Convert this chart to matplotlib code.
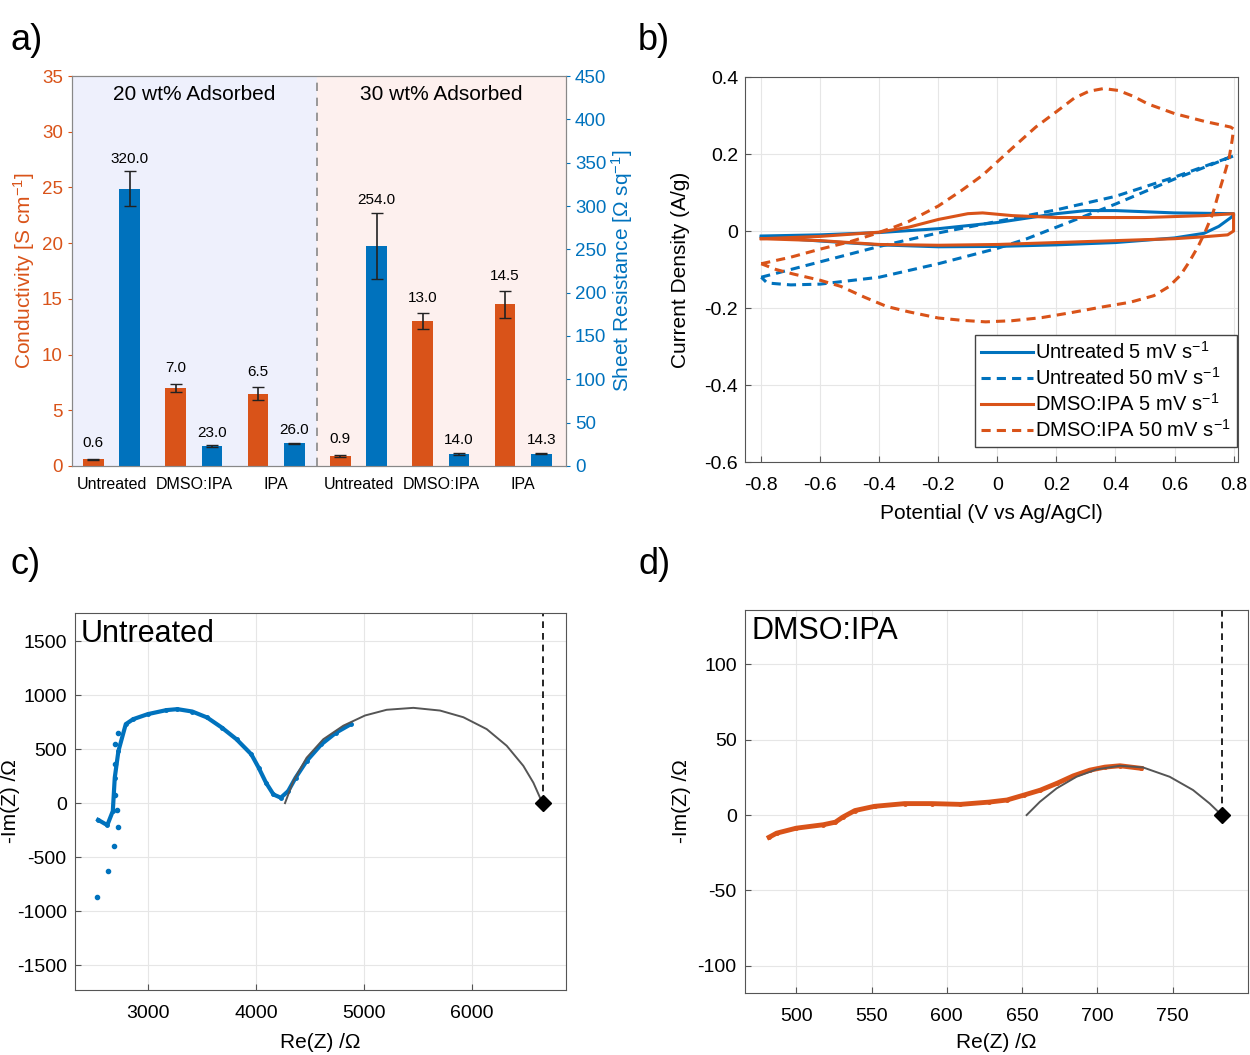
import numpy as np
import matplotlib
matplotlib.use("Agg")
import matplotlib.pyplot as plt

plt.rcParams['font.family'] = ['Liberation Sans', 'DejaVu Sans']
plt.rcParams['mathtext.fontset'] = 'custom'
plt.rcParams['mathtext.rm'] = 'Liberation Sans'
plt.rcParams['mathtext.it'] = 'Liberation Sans:italic'
plt.rcParams['axes.unicode_minus'] = False

ORANGE = '#D95319'
BLUE = '#0072BD'
SPINE = '#555555'

# ---- panel a data ----
categories = ['Untreated', 'DMSO:IPA', 'IPA', 'Untreated', 'DMSO:IPA', 'IPA']
conductivity = [0.6, 7.0, 6.5, 0.9, 13.0, 14.5]
conductivity_err = [0.06, 0.4, 0.6, 0.12, 0.7, 1.2]
sheet_res = [320.0, 23.0, 26.0, 254.0, 14.0, 14.3]
sheet_res_err = [20.0, 1.0, 1.0, 38.0, 1.0, 1.0]
group_titles = ['20 wt% Adsorbed', '30 wt% Adsorbed']

# ---- panel b data (CV loops) ----
untr5_v = [-0.8, -0.6, -0.4, -0.2, 0.0, 0.2, 0.3, 0.4, 0.5, 0.6, 0.8,
           0.8, 0.75, 0.7, 0.6, 0.4, 0.2, 0.0, -0.2, -0.4, -0.6, -0.8]
untr5_i = [-0.013, -0.01, -0.004, 0.006, 0.022, 0.045, 0.053, 0.053, 0.05, 0.047, 0.045,
           0.04, 0.012, -0.006, -0.018, -0.03, -0.036, -0.04, -0.041, -0.036, -0.026, -0.015]
untr50_v = [-0.8, -0.6, -0.4, -0.2, 0.0, 0.2, 0.4, 0.6, 0.8,
            0.6, 0.4, 0.3, 0.2, 0.1, 0.0, -0.2, -0.4, -0.6, -0.7, -0.78, -0.8]
untr50_i = [-0.12, -0.08, -0.04, -0.005, 0.025, 0.055, 0.09, 0.14, 0.195,
            0.135, 0.07, 0.04, 0.01, -0.02, -0.045, -0.085, -0.12, -0.138, -0.14, -0.135, -0.12]
dmso5_v = [-0.8, -0.6, -0.4, -0.3, -0.2, -0.1, -0.05, 0.05, 0.2, 0.5, 0.7, 0.8,
           0.8, 0.78, 0.7, 0.6, 0.4, 0.2, 0.0, -0.2, -0.4, -0.6, -0.8]
dmso5_i = [-0.02, -0.014, -0.003, 0.01, 0.03, 0.045, 0.047, 0.04, 0.035, 0.035, 0.04, 0.045,
           0.0, -0.01, -0.015, -0.02, -0.025, -0.03, -0.035, -0.037, -0.035, -0.025, -0.02]
dmso50_v = [-0.8, -0.7, -0.6, -0.5, -0.425, -0.35, -0.3, -0.2, -0.12, -0.05, 0.0, 0.05, 0.13,
            0.2, 0.26, 0.31, 0.36, 0.41, 0.46, 0.51, 0.6, 0.7, 0.79, 0.8,
            0.795, 0.785, 0.77, 0.75, 0.73, 0.705, 0.68, 0.65, 0.62, 0.58, 0.53, 0.45, 0.35,
            0.25, 0.15, 0.05, -0.04, -0.12, -0.2, -0.3, -0.375, -0.45, -0.53, -0.6, -0.69,
            -0.75, -0.8]
dmso50_i = [-0.085, -0.068, -0.047, -0.028, -0.01, 0.01, 0.025, 0.065, 0.106, 0.145, 0.18, 0.215, 0.27,
            0.31, 0.345, 0.363, 0.37, 0.365, 0.35, 0.33, 0.305, 0.285, 0.27, 0.265,
            0.235, 0.19, 0.15, 0.1, 0.046, 0.0, -0.04, -0.08, -0.115, -0.145, -0.168, -0.185, -0.198,
            -0.212, -0.225, -0.233, -0.236, -0.232, -0.226, -0.21, -0.196, -0.172, -0.144, -0.128, -0.112,
            -0.1, -0.085]

# ---- panel c data (Nyquist, untreated) ----
c_re = [2539, 2624, 2675, 2693, 2727, 2795, 2863, 3000, 3171, 3273, 3410, 3547, 3683, 3820,
        3957, 4025, 4093, 4162, 4230, 4298, 4367, 4469, 4606, 4742, 4879]
c_im = [-155, -204, -74, 235, 483, 731, 777, 824, 861, 870, 848, 793, 700, 591,
        452, 328, 189, 80, 50, 111, 235, 390, 545, 653, 731]
c_out_re = [2532, 2631, 2686, 2720, 2710, 2693, 2693, 2693, 2727]
c_out_im = [-867, -625, -400, -223, -65, 74, 359, 545, 653]
c_fit_re = [4269, 4346, 4469, 4623, 4809, 5009, 5210, 5457, 5704, 5920, 6136, 6321, 6475, 6568, 6645, 6660]
c_fit_im = [0, 205, 420, 591, 717, 811, 864, 882, 857, 795, 685, 531, 345, 189, 16, 0]
c_r = 6660

# ---- panel d data (Nyquist, DMSO:IPA) ----
d_re = [482, 487, 500, 518, 526, 531, 539, 552, 572, 590, 609, 628, 640, 651,
        662, 673, 684, 695, 705, 715, 729]
d_im = [-14.7, -12, -8.7, -6.4, -4.7, -1.3, 3, 5.8, 7.6, 7.6, 7.1, 8.6, 10, 13.2,
        16.5, 21, 26, 29.8, 31.8, 32.7, 31]
d_fit_re = [653, 661.8, 672.9, 686.1, 699.4, 714.9, 730.3, 748, 763.5, 774.5, 782.5]
d_fit_im = [0, 8.8, 17.7, 25.4, 30.3, 32.7, 31.6, 25.4, 16.6, 7.7, 0]
d_r = 782.5

W, H = 1250, 1055
fig = plt.figure(figsize=(W / 100, H / 100), dpi=100)


def box(l, t, r, b):
    return [l / W, 1 - b / H, (r - l) / W, (b - t) / H]


# ================= a) =================
ax = fig.add_axes(box(72, 76, 566, 466))
ax2 = ax.twinx()
x = np.arange(len(categories))
ax.set_xlim(-0.48, 5.52)
ax.axvspan(-0.48, 2.5, color='#EEF0FC', zorder=0)
ax.axvspan(2.5, 5.52, color='#FDF0EE', zorder=0)
ax.axvline(2.5, color='#888888', ls=(0, (5, 4)), lw=1.2, zorder=1)
ax.bar(x - 0.22, conductivity, 0.25, color=ORANGE, yerr=conductivity_err,
       capsize=4, error_kw=dict(ecolor='#222222', lw=1.2), zorder=2)
ax2.bar(x + 0.22, sheet_res, 0.25, color=BLUE, yerr=sheet_res_err,
        capsize=4, error_kw=dict(ecolor='#222222', lw=1.2), zorder=2)
for xi, v, e in zip(x, conductivity, conductivity_err):
    ax.annotate(f'{v:.1f}', (xi - 0.22, v + e), xytext=(0, 6), textcoords='offset points',
                ha='center', va='bottom', fontsize=11)
for xi, v, e in zip(x, sheet_res, sheet_res_err):
    ax2.annotate(f'{v:.1f}', (xi + 0.22, v + e), xytext=(0, 4), textcoords='offset points',
                 ha='center', va='bottom', fontsize=11)
ax.set_ylim(0, 35)
ax2.set_ylim(0, 450)
ax.set_yticks(np.arange(0, 36, 5))
ax2.set_yticks(np.arange(0, 451, 50))
ax.set_xticks(x)
ax.set_xticklabels(categories, fontsize=11.5)
ax.tick_params(axis='x', length=0, pad=8)
ax.tick_params(axis='y', colors=ORANGE, labelsize=13.5, direction='out', length=3)
ax2.tick_params(axis='y', colors=BLUE, labelsize=13.5, direction='out', length=3)
ax.set_ylabel('Conductivity [S cm$^{-1}$]', color=ORANGE, fontsize=15)
ax2.set_ylabel('Sheet Resistance [Ω sq$^{-1}$]', color=BLUE, fontsize=15)
ax.yaxis.set_label_coords(-0.071, 0.5)
ax2.yaxis.set_label_coords(1.087, 0.5)
ax.text(1.0, 33.3, group_titles[0], ha='center', va='center', fontsize=15)
ax.text(4.0, 33.3, group_titles[1], ha='center', va='center', fontsize=15)
for a in (ax, ax2):
    for s in a.spines.values():
        s.set_color('#888888')

# ================= b) =================
bx = fig.add_axes(box(745, 77, 1238, 462))
bx.plot(untr5_v, untr5_i, color=BLUE, lw=2.2, label='Untreated 5 mV s$^{-1}$')
bx.plot(untr50_v, untr50_i, color=BLUE, lw=2.2, ls=(0, (3, 2)), label='Untreated 50 mV s$^{-1}$')
bx.plot(dmso5_v, dmso5_i, color=ORANGE, lw=2.2, label='DMSO:IPA 5 mV s$^{-1}$')
bx.plot(dmso50_v, dmso50_i, color=ORANGE, lw=2.2, ls=(0, (3, 2)), label='DMSO:IPA 50 mV s$^{-1}$')
bx.set_xlim(-0.855, 0.815)
bx.set_ylim(-0.6, 0.4)
bx.set_xticks(np.arange(-0.8, 0.81, 0.2))
bx.set_xticklabels(['-0.8', '-0.6', '-0.4', '-0.2', '0', '0.2', '0.4', '0.6', '0.8'])
bx.set_yticks([-0.6, -0.4, -0.2, 0, 0.2, 0.4])
bx.set_yticklabels(['-0.6', '-0.4', '-0.2', '0', '0.2', '0.4'])
bx.grid(color='#e6e6e6', lw=0.8)
bx.set_axisbelow(True)
bx.tick_params(labelsize=14, direction='in', length=4, color=SPINE)
bx.tick_params(axis='x', pad=11)
bx.tick_params(axis='y', pad=5)
bx.set_xlabel('Potential (V vs Ag/AgCl)', fontsize=15)
bx.set_ylabel('Current Density (A/g)', fontsize=15)
bx.xaxis.set_label_coords(0.5, -0.109)
bx.yaxis.set_label_coords(-0.112, 0.5)
leg = bx.legend(loc='lower right', bbox_to_anchor=(0.997, 0.04), fontsize=14.5, frameon=True,
                fancybox=False, framealpha=1, edgecolor='#444444', handlelength=2.6,
                handletextpad=0.1, labelspacing=0.2, borderpad=0.3, borderaxespad=0)
leg.get_frame().set_linewidth(1.0)
for s in bx.spines.values():
    s.set_color(SPINE)

# ================= c) =================
cx = fig.add_axes(box(75, 613, 566, 990))
cx.plot(c_re, c_im, color=BLUE, lw=3, marker='o', ms=2.5, zorder=3)
cx.plot(c_out_re, c_out_im, ls='none', color=BLUE, marker='o', ms=3, zorder=3)
cx.plot(c_fit_re, c_fit_im, color='#555555', lw=1.4, zorder=4)
cx.plot([c_r, c_r], [0, 1760], color='black', lw=1.2, ls=(0, (4, 3)))
cx.plot([c_r], [0], marker='D', color='black', ms=8, zorder=5)
cx.set_xlim(2325, 6870)
cx.set_ylim(-1730, 1760)
cx.set_xticks([3000, 4000, 5000, 6000])
cx.set_yticks(np.arange(-1500, 1501, 500))
cx.grid(color='#e6e6e6', lw=0.8)
cx.set_axisbelow(True)
cx.tick_params(labelsize=14, direction='in', length=4, color=SPINE)
cx.tick_params(axis='x', pad=11)
cx.tick_params(axis='y', pad=6)
cx.set_xlabel('Re(Z) /Ω', fontsize=15)
cx.set_ylabel('-Im(Z) /Ω', fontsize=15)
cx.xaxis.set_label_coords(0.5, -0.114)
cx.yaxis.set_label_coords(-0.112, 0.5)
cx.text(0.012, 0.985, 'Untreated', transform=cx.transAxes, ha='left', va='top', fontsize=22)
for s in cx.spines.values():
    s.set_color(SPINE)

# ================= d) =================
dx = fig.add_axes(box(745, 610, 1248, 993))
dx.plot(d_re, d_im, color=ORANGE, lw=3.5, marker='o', ms=2.5, mfc='none', zorder=3)
dx.plot(d_fit_re, d_fit_im, color='#555555', lw=1.4, zorder=4)
dx.plot([d_r, d_r], [0, 136], color='black', lw=1.2, ls=(0, (4, 3)))
dx.plot([d_r], [0], marker='D', color='black', ms=8, zorder=5)
dx.set_xlim(466, 800)
dx.set_ylim(-118, 136)
dx.set_xticks([500, 550, 600, 650, 700, 750])
dx.set_yticks([-100, -50, 0, 50, 100])
dx.grid(color='#e6e6e6', lw=0.8)
dx.set_axisbelow(True)
dx.tick_params(labelsize=14, direction='in', length=4, color=SPINE)
dx.tick_params(axis='x', pad=11)
dx.tick_params(axis='y', pad=6)
dx.set_xlabel('Re(Z) /Ω', fontsize=15)
dx.set_ylabel('-Im(Z) /Ω', fontsize=15)
dx.xaxis.set_label_coords(0.5, -0.104)
dx.yaxis.set_label_coords(-0.107, 0.5)
dx.text(0.012, 0.985, 'DMSO:IPA', transform=dx.transAxes, ha='left', va='top', fontsize=22)
for s in dx.spines.values():
    s.set_color(SPINE)

# panel letters
for lbl, (px, py) in zip(['a)', 'b)', 'c)', 'd)'], [(10, 40), (638, 40), (10, 565), (638, 565)]):
    fig.text(px / W, 1 - py / H, lbl, fontsize=26, ha='left', va='center')

fig.savefig('out.png', dpi=100)
